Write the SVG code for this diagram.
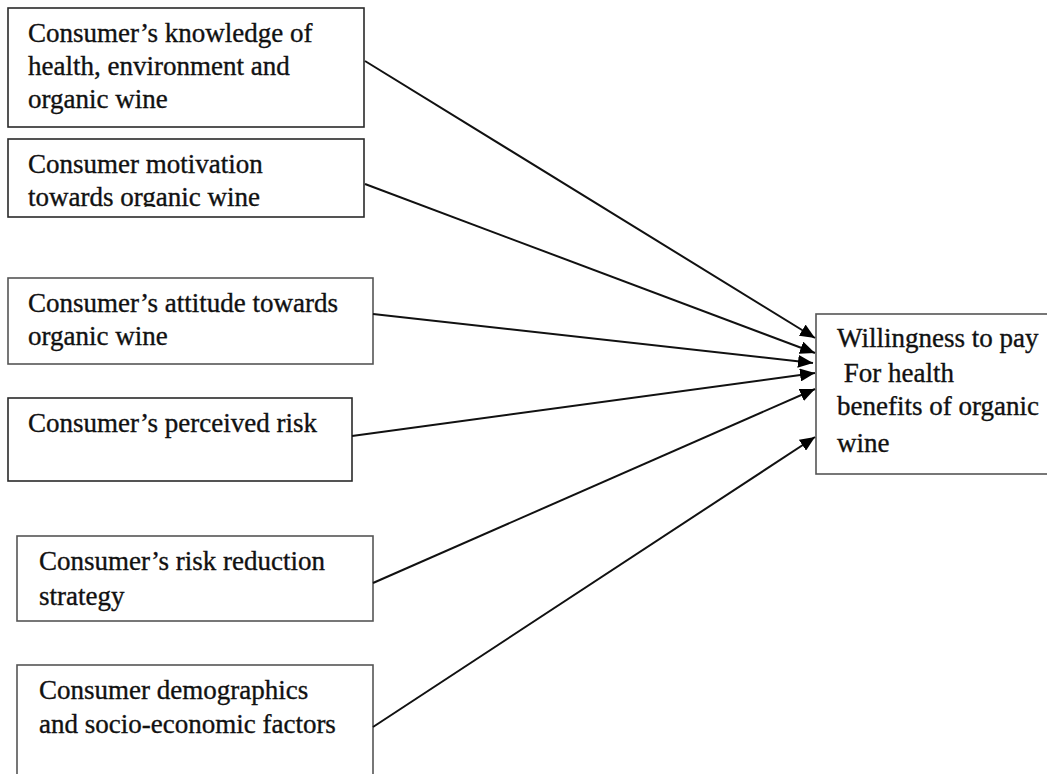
<svg xmlns="http://www.w3.org/2000/svg" width="1047" height="774" viewBox="0 0 1047 774">
<style>
.box{fill:#fff;stroke:#2a2a2a;stroke-width:1.6}
.gbox{fill:#fff;stroke:#555;stroke-width:1.6}
.t{font-family:"Liberation Serif","Times New Roman",serif;font-size:27px;fill:#111;stroke:#111;stroke-width:0.35}
.c{fill:none;stroke:#111;stroke-width:2}
</style>
<defs>
<marker id="ah" markerUnits="userSpaceOnUse" markerWidth="17" markerHeight="13" refX="15" refY="6.5" orient="auto">
<path d="M0,0 L15,6.5 L0,13 z" fill="#000"/>
</marker>
<clipPath id="clip2"><rect x="0" y="139" width="370" height="68"/></clipPath>
</defs>
<rect width="1047" height="774" fill="#fff"/>
<g id="n1">
<rect class="box" x="8" y="8" width="356" height="119"/>
<text class="t" x="28" y="42">Consumer’s knowledge of</text>
<text class="t" x="28" y="75">health, environment and</text>
<text class="t" x="28" y="108">organic wine</text>
</g>
<g id="n2">
<rect class="box" x="8" y="139" width="356" height="78"/>
<g clip-path="url(#clip2)">
<text class="t" x="28" y="173">Consumer motivation</text>
<text class="t" x="28" y="206">towards organic wine</text>
</g>
</g>
<g id="n3">
<rect class="gbox" x="8" y="278" width="365" height="86"/>
<text class="t" x="28" y="312">Consumer’s attitude towards</text>
<text class="t" x="28" y="345">organic wine</text>
</g>
<g id="n4">
<rect class="box" x="8" y="398" width="344" height="83"/>
<text class="t" x="28" y="432">Consumer’s perceived risk</text>
</g>
<g id="n5">
<rect class="gbox" x="17" y="536" width="356" height="85"/>
<text class="t" x="39" y="570">Consumer’s risk reduction</text>
<text class="t" x="39" y="605">strategy</text>
</g>
<g id="n6">
<rect class="gbox" x="17" y="665" width="356" height="130"/>
<text class="t" x="39" y="699">Consumer demographics</text>
<text class="t" x="39" y="733">and socio-economic factors</text>
</g>
<g id="target">
<rect class="gbox" x="816" y="314" width="240" height="160"/>
<text class="t" x="837" y="347">Willingness to pay</text>
<text class="t" x="837" y="382" xml:space="preserve"> For health</text>
<text class="t" x="837" y="415">benefits of organic</text>
<text class="t" x="837" y="452">wine</text>
</g>
<g id="connectors">
<line class="c" x1="365" y1="61" x2="815" y2="338" marker-end="url(#ah)"/>
<line class="c" x1="365" y1="184" x2="815" y2="353" marker-end="url(#ah)"/>
<line class="c" x1="373" y1="314" x2="813" y2="363" marker-end="url(#ah)"/>
<line class="c" x1="352" y1="436" x2="815" y2="373" marker-end="url(#ah)"/>
<line class="c" x1="373" y1="583" x2="815" y2="389" marker-end="url(#ah)"/>
<line class="c" x1="373" y1="727" x2="815" y2="437" marker-end="url(#ah)"/>
</g>
</svg>
